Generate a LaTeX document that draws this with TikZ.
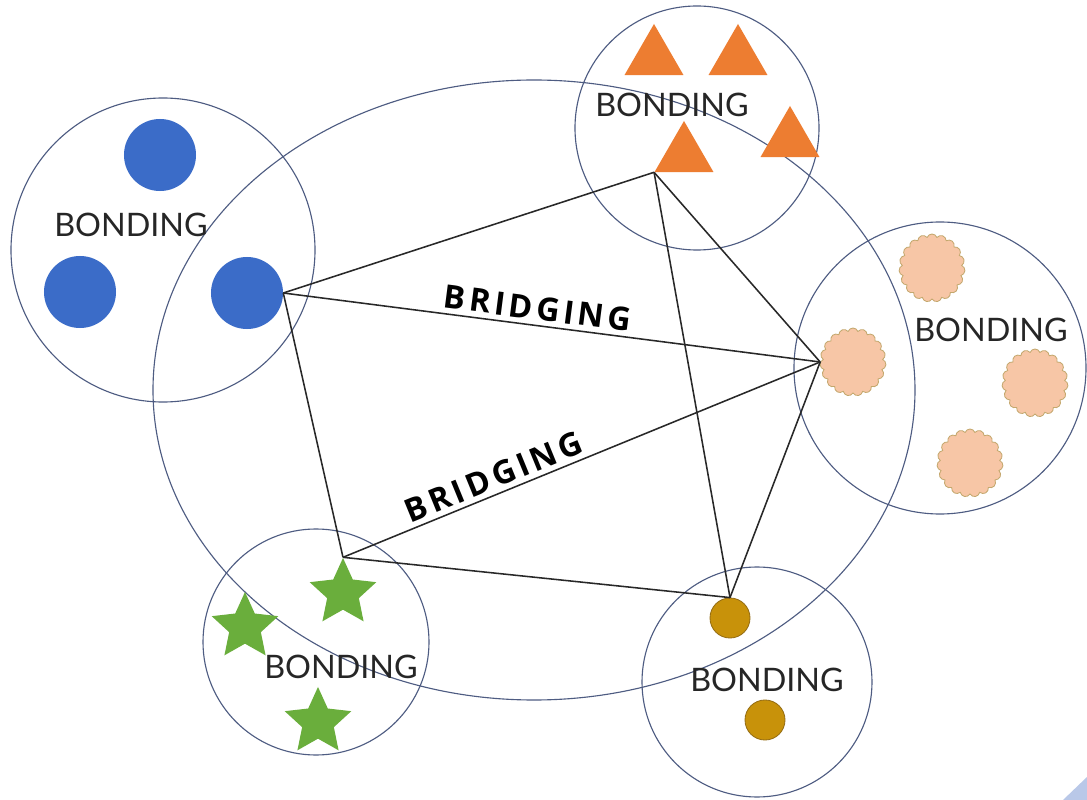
\documentclass[tikz,border=0pt]{standalone}
\usepackage{fontspec}
\usepackage{xcolor}
\usepackage{tikz}
\usetikzlibrary{shapes.geometric,shapes.symbols}
\newfontfamily\bondfont{Lato}
\newfontfamily\bridgefont[LetterSpace=12]{Open Sans}
\definecolor{ringblue}{RGB}{78,92,130}
\definecolor{dotblue}{RGB}{59,108,200}
\definecolor{triorange}{RGB}{237,125,49}
\definecolor{cloudpeach}{RGB}{247,198,166}
\definecolor{cloudedge}{RGB}{196,168,110}
\definecolor{stargreen}{RGB}{106,174,60}
\definecolor{golddot}{RGB}{200,146,10}
\definecolor{goldedge}{RGB}{150,110,20}
\definecolor{linkgray}{RGB}{40,40,40}
\definecolor{cornerblue}{RGB}{185,200,232}

\begin{document}
\begin{tikzpicture}[x=0.025cm,y=-0.025cm,
    ring/.style={draw=ringblue,line width=0.8pt},
    link/.style={draw=linkgray,line width=1.1pt},
    bluedot/.style={circle,fill=dotblue,minimum size=1.8cm,inner sep=0pt},
    tri/.style={regular polygon,regular polygon sides=3,fill=triorange,minimum size=1.7cm,inner sep=0pt},
    puff/.style={cloud,cloud puffs=19,cloud puff arc=140,aspect=1,fill=cloudpeach,draw=cloudedge,line width=0.6pt,minimum width=1.65cm,minimum height=1.7cm,inner sep=0pt},
    greenstar/.style={star,star points=5,star point ratio=2.1,fill=stargreen,minimum size=1.75cm,inner sep=0pt},
    gold/.style={circle,fill=golddot,draw=goldedge,line width=0.6pt,minimum size=1cm,inner sep=0pt},
    bondlabel/.style={font=\bondfont\fontsize{23}{23}\selectfont,text=black!85},
    bridgelabel/.style={font=\bridgefont\bfseries\fontsize{23}{23}\selectfont}]
    \fill[white] (0,0) rectangle (1087,800);
    \useasboundingbox (0,0) rectangle (1087,800);
    \fill[cornerblue] (1063,800) -- (1087,777) -- (1087,800) -- cycle;

    \draw[ring] (163,250) circle[radius=152];
    \draw[ring] (697,128) circle[radius=122];
    \draw[ring] (940,368) circle[radius=146];
    \draw[ring] (316,642) circle[radius=113];
    \draw[ring] (757,682) circle[radius=115];
    \draw[ring] (534,390) ellipse[x radius=381,y radius=310];

    \node[bluedot] (b1) at (160,155) {};
    \node[bluedot] (b2) at (80,292) {};
    \node[bluedot] (b3) at (247,293) {};

    \node[tri] (t1) at (654,58) {};
    \node[tri] (t2) at (738,58) {};
    \node[tri] (t3) at (684,155) {};
    \node[tri] (t4) at (790,140) {};

    \node[puff] (c1) at (932,268) {};
    \node[puff] (c2) at (853,362) {};
    \node[puff] (c3) at (1035,383) {};
    \node[puff] (c4) at (970,463) {};

    \node[greenstar] (s1) at (343,593) {};
    \node[greenstar] (s2) at (245,627) {};
    \node[greenstar] (s3) at (318,722) {};

    \node[gold] (g1) at (730,618) {};
    \node[gold] (g2) at (765,720) {};

    \node[bondlabel] (lblblue) at (131,225) {BONDING};
    \node[bondlabel] (lbltri) at (672,105) {BONDING};
    \node[bondlabel] (lblcloud) at (991,330) {BONDING};
    \node[bondlabel] (lblstar) at (341,667) {BONDING};
    \node[bondlabel] (lblgold) at (767,680) {BONDING};

    \draw[link] (b3.east) -- (t3.corner 2);
    \draw[link] (b3.east) -- node[bridgelabel,sloped,above,pos=0.47] {BRIDGING} (c2.west);
    \draw[link] (b3.east) -- (s1.outer point 1);
    \draw[link] (s1.outer point 1) -- node[bridgelabel,sloped,above,pos=0.33] {BRIDGING} (c2.west);
    \draw[link] (s1.outer point 1) -- (g1.north);
    \draw[link] (t3.corner 2) -- (c2.west);
    \draw[link] (t3.corner 2) -- (g1.north);
    \draw[link] (c2.west) -- (g1.north);
\end{tikzpicture}
\end{document}
